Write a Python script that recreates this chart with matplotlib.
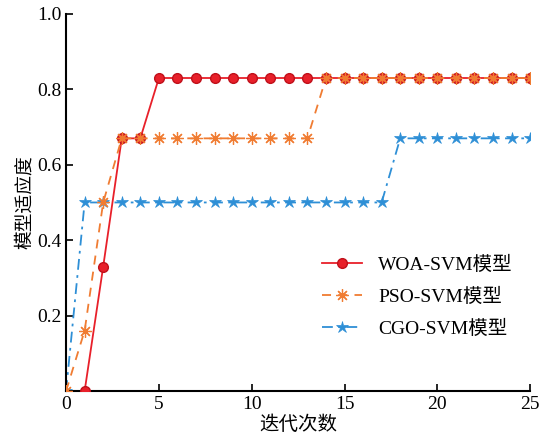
import matplotlib
matplotlib.use("Agg")
import matplotlib.pyplot as plt

plt.rcParams['font.family'] = ['Liberation Serif', 'Noto Sans CJK SC']
plt.rcParams['mathtext.fontset'] = 'stix'

woa_x = list(range(1, 26))
woa_y = [0.0, 0.33, 0.67, 0.67] + [0.83] * 21
pso_x = list(range(0, 26))
pso_y = [0.0, 0.16, 0.50] + [0.67] * 11 + [0.83] * 12
cgo_x = list(range(0, 26))
cgo_y = [0.0] + [0.50] * 17 + [0.67] * 8

fig = plt.figure(figsize=(5.46, 4.34), dpi=100)
ax = fig.add_axes([0.121, 0.099, 0.850, 0.869])

ax.plot(woa_x, woa_y, color="#e8202a", lw=1.3, marker="o", ms=7,
        markerfacecolor="#e8202a", markeredgecolor="#c0101a", label="WOA-SVM模型", zorder=3)
ax.plot(pso_x, pso_y, color="#f07c32", lw=1.3, ls=(0, (5, 4)), marker=(8, 2, 0), ms=9,
        markeredgewidth=0.9, markeredgecolor="#f07c32", label="PSO-SVM模型", zorder=4)
ax.plot(cgo_x, cgo_y, color="#2e8fd6", lw=1.3, ls=(0, (6, 3, 1.5, 3)), marker="*", ms=9,
        markeredgewidth=0.5, label="CGO-SVM模型", zorder=2)

ax.set_xlim(0, 25)
ax.set_ylim(0, 1.0)
ax.set_xticks([0, 5, 10, 15, 20, 25])
ax.set_yticks([0.2, 0.4, 0.6, 0.8, 1.0])
ax.set_yticklabels(["0.2", "0.4", "0.6", "0.8", "1.0"])
ax.tick_params(direction="in", labelsize=14, length=5, width=1.2)
for s in ["top", "right"]:
    ax.spines[s].set_visible(False)
for s in ["left", "bottom"]:
    ax.spines[s].set_linewidth(1.5)
ax.set_xlabel("迭代次数", fontsize=14, labelpad=2)
ax.set_ylabel("模型适应度", fontsize=13.5, labelpad=2)

ax.legend(loc="lower right", bbox_to_anchor=(1.0, 0.095), frameon=False, fontsize=14,
          handlelength=2.1, labelspacing=0.7)

fig.savefig("out.png", dpi=100)
